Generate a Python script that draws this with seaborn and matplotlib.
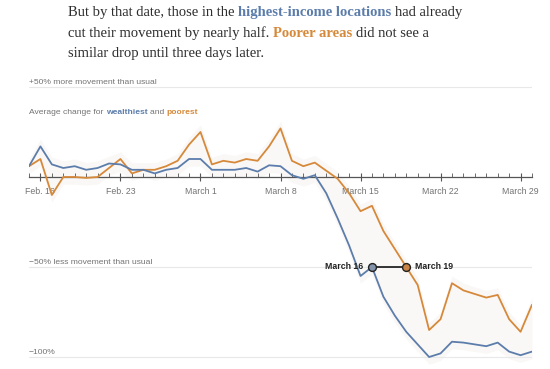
import matplotlib
matplotlib.use("Agg")
import matplotlib.pyplot as plt
import matplotlib.dates as mdates
import numpy as np
import pandas as pd
import seaborn as sns

# daily change in movement vs. usual (%), Feb 15 - Mar 30, 2020
dates = pd.date_range("2020-02-15", "2020-03-30", freq="D")
wealthiest = [6, 17, 7, 5, 6, 4, 5, 7.5, 7, 4, 4, 2, 4, 5, 10,
              10, 4, 4, 4, 5, 3, 6.5, 6, 1, -1, 1, -9, -23, -38, -55,
              -50, -66.5, -77, -86, -93, -100, -98, -91.5, -92, -93, -94, -92, -97, -99, -97]
poorest = [6, 10, -10, 0, 0, -0.5, 0, 5, 10, 2, 4, 4, 6, 9, 18,
           25, 7, 9, 8, 10, 9, 17, 27, 9, 6, 8, 3.5, -1, -9, -19,
           -16, -30, -40, -50, -60, -85, -79, -59, -63, -65, -67, -65.5, -79, -86, -71]
tick_days = ["2020-02-16", "2020-02-23", "2020-03-01", "2020-03-08",
             "2020-03-15", "2020-03-22", "2020-03-29"]
tick_labels = ["Feb. 16", "Feb. 23", "March 1", "March 8", "March 15", "March 22", "March 29"]
grid_vals = [50, -50, -100]
grid_labels = ["+50% more movement than usual", "\u221250% less movement than usual", "\u2212100%"]
drop_dates = ["2020-03-16", "2020-03-19"]
drop_labels = ["March 16", "March 19"]

BLUE = "#5c7dab"
ORANGE = "#d6893a"
GRAY = "#737373"
INK = "#2e2e2e"

df = pd.DataFrame({"date": dates, "wealthiest": wealthiest, "poorest": poorest})
long = df.melt(id_vars="date", var_name="group", value_name="change")

sns.set_theme(style="white")
plt.rcParams["font.family"] = ["Liberation Sans", "DejaVu Sans"]

W, H = 550, 369
fig = plt.figure(figsize=(W / 100, H / 100), dpi=100)
renderer = fig.canvas.get_renderer()

SMALL = 6.1
SMALL_BOLD = 6.3

# pixel layout: x from 29 to 532, y value v at pixel 177 - 1.8 v
ymin, ymax = -105, 60
top_px = 177 - 1.8 * ymax
bot_px = 177 - 1.8 * ymin
ax = fig.add_axes([29 / W, (H - bot_px) / H, (532 - 29) / W, (bot_px - top_px) / H])

# faint cloud behind the averages
lo = np.minimum(df.wealthiest, df.poorest)
hi = np.maximum(df.wealthiest, df.poorest)
ax.fill_between(df.date, lo - 4, hi + 4, color="#f3efea", alpha=0.4, lw=0, zorder=0)

for v in grid_vals:
    ax.axhline(v, color="#e8e8e8", lw=0.8, zorder=0)

sns.lineplot(data=long, x="date", y="change", hue="group",
             palette={"wealthiest": BLUE, "poorest": ORANGE},
             hue_order=["poorest", "wealthiest"],
             lw=1.3, legend=False, ax=ax, zorder=3)

ax.set_xlim(dates[0], dates[-1])
ax.set_ylim(ymin, ymax)
for s in ["top", "right", "left"]:
    ax.spines[s].set_visible(False)
ax.spines["bottom"].set_position(("data", 0))
ax.spines["bottom"].set_color("#555555")
ax.spines["bottom"].set_linewidth(0.9)
ax.spines["bottom"].set_zorder(2)
ax.set_yticks([])
ax.set_xlabel("")
ax.set_ylabel("")
ax.set_xticks(pd.to_datetime(tick_days))
ax.set_xticklabels(tick_labels)
ax.xaxis.set_minor_locator(mdates.DayLocator())
ax.tick_params(axis="x", which="major", direction="inout", length=6, width=0.8,
               color="#555555", labelsize=SMALL + 0.2, labelcolor=GRAY, pad=4, bottom=True)
ax.tick_params(axis="x", which="minor", direction="in", length=3, width=0.6,
               color="#555555", bottom=True)

# gridline captions
for v, lab in zip(grid_vals, grid_labels):
    ax.text(dates[0], v + 0.3, lab, fontsize=SMALL, color=GRAY, va="bottom", ha="left")

# March 16 -> March 19 connector
d0, d1 = pd.to_datetime(drop_dates)
ax.plot([d0, d1], [-50, -50], color="black", lw=1.1, zorder=4)
ax.scatter([d0], [-50], s=32, color="#8393a9", edgecolor="#222222", lw=1, zorder=5)
ax.scatter([d1], [-50], s=32, color="#c98345", edgecolor="#222222", lw=1, zorder=5)
ax.annotate(drop_labels[0], (d0, -50), xytext=(-6, 0.5), textcoords="offset points",
            ha="right", va="center", fontsize=SMALL_BOLD, fontweight="bold", color="#222222")
ax.annotate(drop_labels[1], (d1, -50), xytext=(6, 0.5), textcoords="offset points",
            ha="left", va="center", fontsize=SMALL_BOLD, fontweight="bold", color="#222222")


def text_width(txt, **kw):
    t = fig.text(0, 0, txt, **kw)
    w = t.get_window_extent(renderer).width
    t.remove()
    return w


def piece_width(txt, weight, kw):
    # measure with bars on both sides so edge spaces count
    return (text_width("|" + txt + "|", fontweight=weight, **kw)
            - text_width("||", fontweight=weight, **kw))


def rich_line(x, y, parts, **kw):
    # draw coloured pieces one after another, in figure pixels
    # (pieces never start with a space; spaces go at the end of the previous one)
    for txt, color, weight in parts:
        fig.text(x / W, 1 - y / H, txt, color=color, fontweight=weight,
                 va="center", ha="left", **kw)
        x += piece_width(txt, weight, kw)


rich_line(29, 112.5, [("Average change for ", GRAY, "normal"),
                      ("wealthiest ", BLUE, "bold"),
                      ("and ", GRAY, "normal"),
                      ("poorest", ORANGE, "bold")], fontsize=SMALL)

serif = dict(fontsize=10.5, family=["Liberation Serif", "DejaVu Serif"])
rich_line(68, 12.5, [("But by that date, those in the ", INK, "normal"),
                     ("highest-income locations ", BLUE, "bold"),
                     ("had already", INK, "normal")], **serif)
rich_line(68, 33.5, [("cut their movement by nearly half. ", INK, "normal"),
                     ("Poorer areas ", ORANGE, "bold"),
                     ("did not see a", INK, "normal")], **serif)
rich_line(68, 53, [("similar drop until three days later.", INK, "normal")], **serif)

fig.savefig("out.png", dpi=100, facecolor="white")
